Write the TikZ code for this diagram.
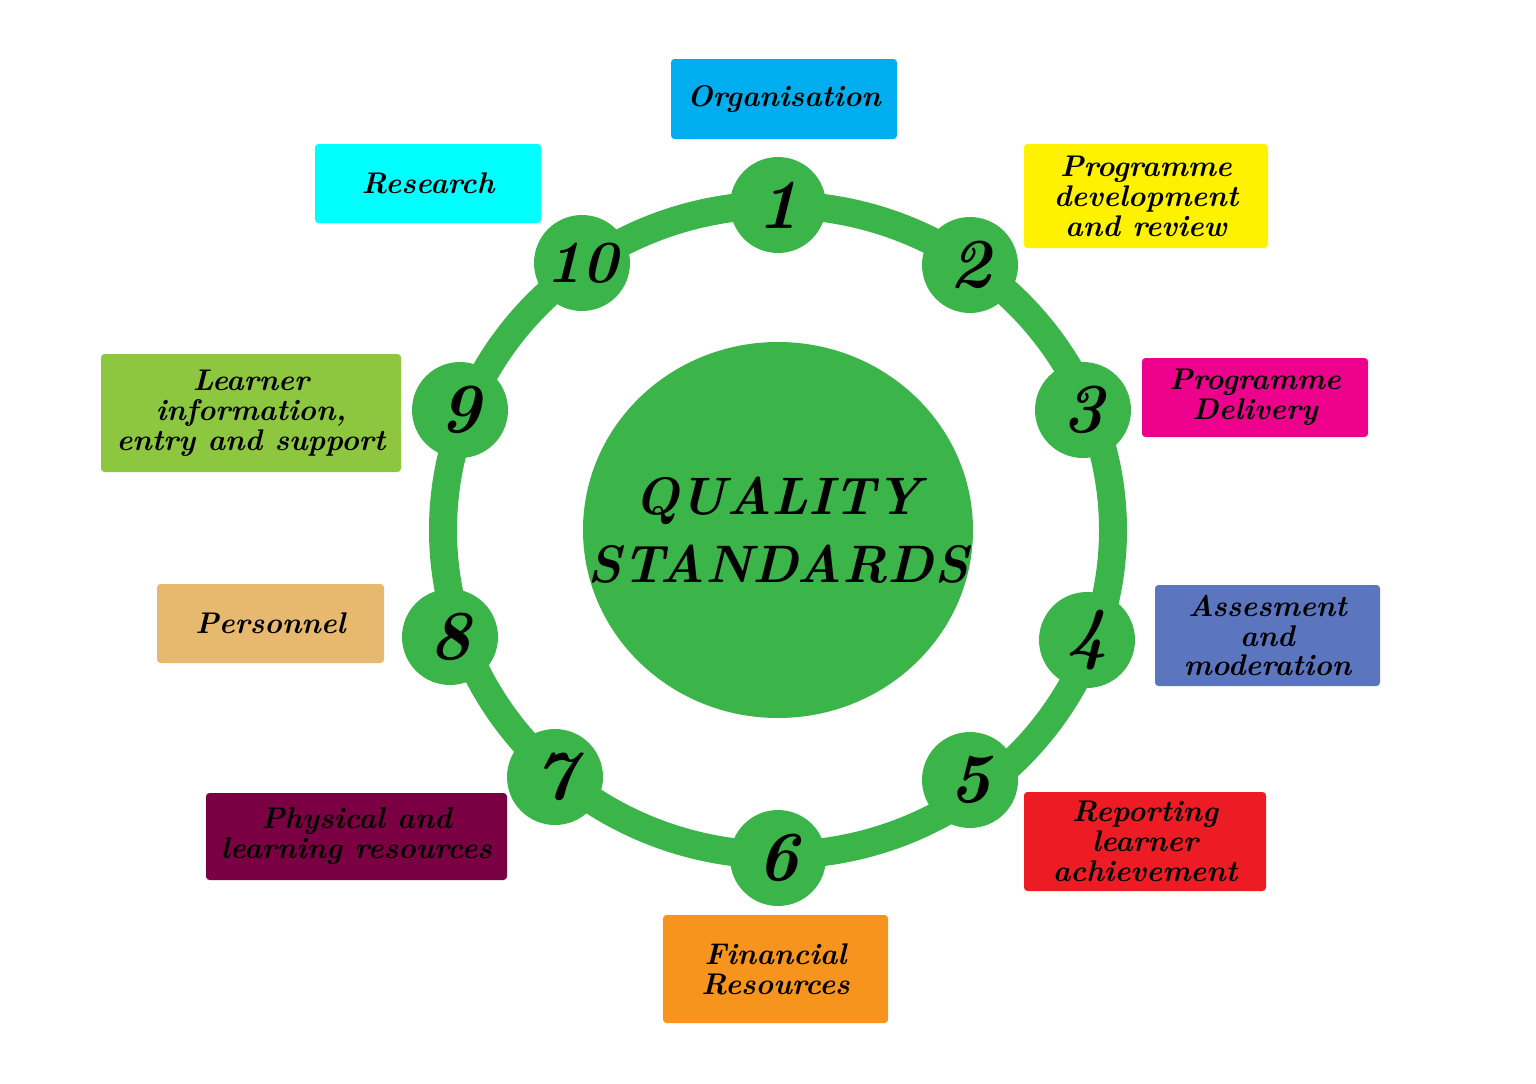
\documentclass[tikz,border=0pt]{standalone}
\usepackage{xcolor}
\usetikzlibrary{shapes.geometric}
\definecolor{ring}{HTML}{3BB44A}
\begin{document}
\begin{tikzpicture}[x=0.02cm,y=-0.02cm,
  num/.style={circle,fill=ring,minimum size=1.92cm,inner sep=0pt,font=\fontsize{40}{40}\selectfont\bfseries\itshape},
  box/.style={rounded corners=2pt,inner sep=0pt,align=center,font=\fontsize{17}{17}\selectfont\bfseries\itshape}]
\useasboundingbox[fill=white] (0,0) rectangle (1536,1083);
\draw[ring,line width=0.56cm] (778,530) ellipse [x radius=335, y radius=325];
\fill[ring] (778,530) ellipse [x radius=195, y radius=188];
\node[align=center,inner sep=0pt,
  font=\fontsize{30}{30}\selectfont\bfseries\itshape] (c) at (778,530) {QUALITY\\[0.3cm]STANDARDS};
\node[num] (n1) at (778,205) {1};
\node[num] (n2) at (970,265) {2};
\node[num] (n3) at (1083,410) {3};
\node[num] (n4) at (1087,640) {4};
\node[num] (n5) at (970,780) {5};
\node[num] (n6) at (778,858) {6};
\node[num] (n7) at (555,777) {7};
\node[num] (n8) at (450,637) {8};
\node[num] (n9) at (460,410) {9};
\node[num,font=\fontsize{34}{34}\selectfont\bfseries\itshape] (n10) at (582,263) {10};
\newcommand\qbox[7]{\fill[#6,rounded corners=2pt] (#2,#3) rectangle (#4,#5);
  \node[box] (#1) at ({(#2+#4)/2},{(#3+#5)/2}) {#7};}
\definecolor{c1}{HTML}{00AEEF}\definecolor{c2}{HTML}{FFF200}\definecolor{c3}{HTML}{EC008C}
\definecolor{c4}{HTML}{5B75BE}\definecolor{c5}{HTML}{ED1C24}\definecolor{c6}{HTML}{F7941D}
\definecolor{c7}{HTML}{7B0043}\definecolor{c8}{HTML}{E6B96E}\definecolor{c9}{HTML}{8DC63F}
\definecolor{c10}{HTML}{00FFFF}
\qbox{b1}{671}{59}{897}{139}{c1}{Organisation}
\qbox{b2}{1024}{144}{1268}{248}{c2}{Programme\\development\\and review}
\qbox{b3}{1142}{358}{1368}{437}{c3}{Programme\\Delivery}
\qbox{b4}{1155}{585}{1380}{686}{c4}{Assesment\\and\\moderation}
\qbox{b5}{1024}{792}{1266}{891}{c5}{Reporting\\learner\\achievement}
\qbox{b6}{663}{915}{888}{1023}{c6}{Financial\\Resources}
\qbox{b7}{206}{793}{507}{880}{c7}{Physical and\\learning resources}
\qbox{b8}{157}{584}{384}{663}{c8}{Personnel}
\qbox{b9}{101}{354}{401}{472}{c9}{Learner\\information,\\entry and support}
\qbox{b10}{315}{144}{541}{223}{c10}{Research}
\end{tikzpicture}
\end{document}
